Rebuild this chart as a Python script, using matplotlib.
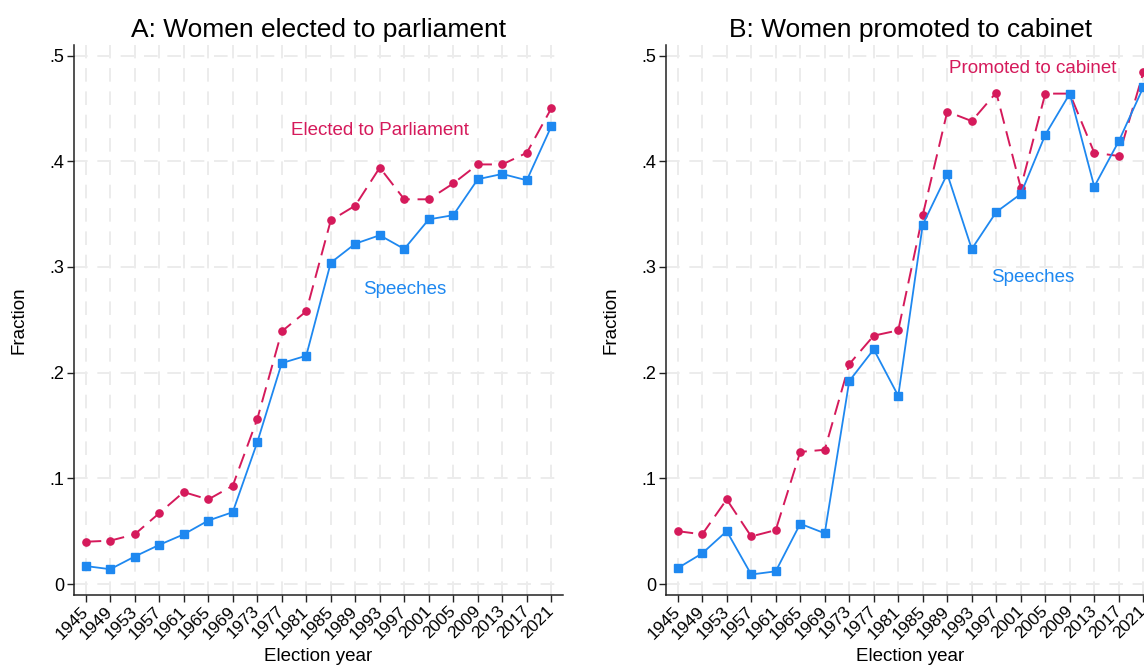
import matplotlib
matplotlib.use("Agg")
import matplotlib.pyplot as plt

plt.rcParams["font.family"] = ["Liberation Sans", "DejaVu Sans"]

# election years on the x axis
years = [1945, 1949, 1953, 1957, 1961, 1965, 1969, 1973, 1977, 1981,
         1985, 1989, 1993, 1997, 2001, 2005, 2009, 2013, 2017, 2021]

# Panel A: share of women among MPs and among speeches
elected = [0.040, 0.041, 0.047, 0.067, 0.087, 0.080, 0.093, 0.156, 0.239, 0.258,
           0.344, 0.358, 0.394, 0.364, 0.364, 0.379, 0.397, 0.397, 0.408, 0.450]
speeches_a = [0.017, 0.014, 0.026, 0.037, 0.047, 0.060, 0.068, 0.134, 0.209, 0.216,
              0.304, 0.322, 0.330, 0.317, 0.345, 0.349, 0.383, 0.388, 0.382, 0.433]

# Panel B: share of women among cabinet members and their speeches
cabinet = [0.050, 0.047, 0.080, 0.045, 0.051, 0.125, 0.127, 0.208, 0.235, 0.240,
           0.349, 0.447, 0.438, 0.465, 0.375, 0.464, 0.464, 0.408, 0.405, 0.484]
speeches_b = [0.015, 0.029, 0.050, 0.009, 0.012, 0.057, 0.048, 0.192, 0.222, 0.178,
              0.340, 0.388, 0.317, 0.352, 0.369, 0.425, 0.464, 0.376, 0.419, 0.470]

yticks = [0, 0.1, 0.2, 0.3, 0.4, 0.5]
ytick_labels = ["0", ".1", ".2", ".3", ".4", ".5"]

RED = "#D51A5B"
BLUE = "#1E88F0"
GRID = "#ECECEC"

fig = plt.figure(figsize=(11.44, 6.66), dpi=100)
W, H = 1144, 666


def make_axes(left_px):
    # pixel box of one plot region: 490 px wide, from y=45 to y=595
    return fig.add_axes([left_px / W, (H - 595) / H, 489.6 / W, 550 / H])


def draw_panel(ax, title, top, bottom, top_label, top_xy, bot_xy):
    ax.plot(years, top, color=RED, lw=1.4, ls=(0, (8, 4)), marker="o",
            ms=5.2, mec=RED, mfc=RED, zorder=3)
    ax.plot(years, bottom, color=BLUE, lw=1.3, ls="-", marker="s",
            ms=6, mec=BLUE, mfc=BLUE, zorder=4)

    ax.set_xlim(1943.04, 2022.96)
    ax.set_ylim(-0.0104, 0.51)
    ax.set_xticks(years)
    ax.set_xticklabels([str(y) for y in years], rotation=45, ha="right",
                       va="center", rotation_mode="anchor")
    ax.set_yticks(yticks)
    ax.set_yticklabels(ytick_labels)
    ax.tick_params(axis="x", length=5, width=1, pad=5, labelsize=12.5,
                   colors="#222222", labelcolor="black")
    ax.tick_params(axis="y", length=5, width=1, pad=2, labelsize=13,
                   colors="#222222", labelcolor="black")

    ax.grid(True, color=GRID, lw=1.4, ls=(0, (7, 5)))
    ax.set_axisbelow(True)
    for side in ("top", "right"):
        ax.spines[side].set_visible(False)
    for side in ("left", "bottom"):
        ax.spines[side].set_color("#222222")
        ax.spines[side].set_linewidth(1.1)

    ax.set_title(title, fontsize=19, pad=6)
    ax.set_xlabel("Election year", fontsize=13.5)
    ax.set_ylabel("Fraction", fontsize=13.5)
    ax.xaxis.set_label_coords(0.5, -0.096)
    ax.yaxis.set_label_coords(-0.095, 0.5)

    ax.text(*top_xy, top_label, color=RED, fontsize=13.5,
            ha="center", va="center")
    ax.text(*bot_xy, "Speeches", color=BLUE, fontsize=13.5,
            ha="center", va="center")


ax_a = make_axes(73.7)
draw_panel(ax_a, "A: Women elected to parliament", elected, speeches_a,
           "Elected to Parliament", (1993, 0.429), (1997, 0.279))

# right panel runs past the figure edge
ax_b = make_axes(665.7)
draw_panel(ax_b, "B: Women promoted to cabinet", cabinet, speeches_b,
           "Promoted to cabinet", (2003, 0.488), (2003, 0.290))

fig.savefig("out.png", dpi=100, facecolor="white")
